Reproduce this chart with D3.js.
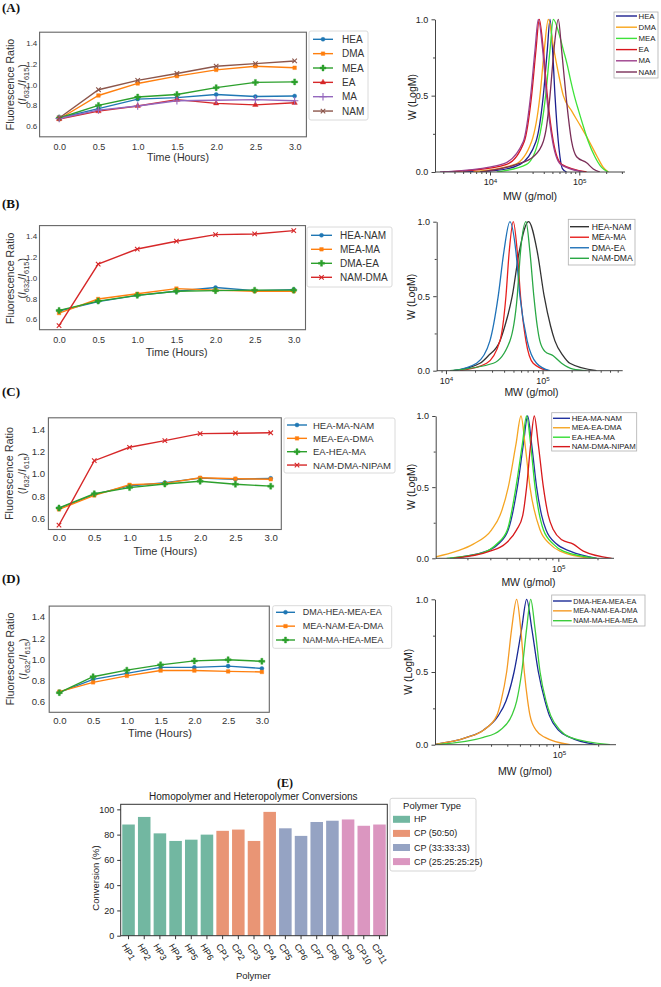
<!DOCTYPE html>
<html><head><meta charset="utf-8">
<script src="https://cdn.jsdelivr.net/npm/d3@7"></script>
<style>
body{margin:0;background:#fff;}
svg{display:block;font-family:"Liberation Sans",Arial,sans-serif;}
</style></head><body>
<svg id="c" width="661" height="987"></svg>
<script>
// ================= DATA =================
const timeHours = [0, 0.5, 1, 1.5, 2, 2.5, 3];
const timeTicks = [0, 0.5, 1, 1.5, 2, 2.5, 3];
const ratioTicks = [0.6, 0.8, 1.0, 1.2, 1.4];

const namesA = ["HEA", "DMA", "MEA", "EA", "MA", "NAM"];
const ratioA = [
  [0.68, 0.77, 0.86, 0.875, 0.905, 0.885, 0.89],
  [0.67, 0.895, 1.01, 1.08, 1.14, 1.175, 1.16],
  [0.68, 0.80, 0.88, 0.905, 0.97, 1.02, 1.025],
  [0.67, 0.745, 0.795, 0.855, 0.82, 0.805, 0.825],
  [0.675, 0.755, 0.795, 0.845, 0.85, 0.855, 0.845],
  [0.68, 0.95, 1.04, 1.105, 1.175, 1.20, 1.225]
];
const namesB = ["HEA-NAM", "MEA-MA", "DMA-EA", "NAM-DMA"];
const ratioB = [
  [0.68, 0.77, 0.83, 0.87, 0.905, 0.875, 0.885],
  [0.66, 0.795, 0.845, 0.895, 0.88, 0.87, 0.87],
  [0.685, 0.775, 0.83, 0.87, 0.875, 0.88, 0.88],
  [0.54, 1.13, 1.275, 1.35, 1.413, 1.42, 1.452]
];
const namesC = ["HEA-MA-NAM", "MEA-EA-DMA", "EA-HEA-MA", "NAM-DMA-NIPAM"];
const ratioC = [
  [0.69, 0.815, 0.89, 0.92, 0.96, 0.95, 0.958],
  [0.68, 0.805, 0.90, 0.913, 0.963, 0.955, 0.95],
  [0.693, 0.82, 0.875, 0.907, 0.932, 0.905, 0.888],
  [0.54, 1.116, 1.236, 1.296, 1.358, 1.362, 1.366]
];
const namesD = ["DMA-HEA-MEA-EA", "MEA-NAM-EA-DMA", "NAM-MA-HEA-MEA"];
const ratioD = [
  [0.688, 0.81, 0.866, 0.923, 0.923, 0.935, 0.913],
  [0.694, 0.782, 0.843, 0.893, 0.893, 0.885, 0.88],
  [0.685, 0.835, 0.897, 0.947, 0.984, 0.995, 0.98]
];

// GPC traces: [log10(MW), W(logM)]
const gpcNamesA = ["HEA", "DMA", "MEA", "EA", "MA", "NAM"];
const gpcA = [
  [[3.70,0],[4.075,0.01],[4.336,0.05],[4.515,0.2],[4.597,0.5],[4.642,0.8],[4.672,1.0],[4.701,0.8],[4.728,0.5],[4.765,0.2],[4.813,0.02],[4.858,0]],
  [[3.813,0],[4.28,0.05],[4.466,0.2],[4.56,0.5],[4.608,0.8],[4.653,1.0],[4.716,0.8],[4.765,0.65],[4.821,0.5],[4.914,0.4],[5.015,0.3],[5.112,0.2],[5.201,0.1],[5.269,0.03],[5.325,0]],
  [[4.075,0],[4.41,0.05],[4.541,0.2],[4.623,0.5],[4.672,0.8],[4.709,1.0],[4.776,0.9],[4.821,0.8],[4.866,0.7],[4.903,0.6],[4.944,0.5],[4.993,0.4],[5.045,0.3],[5.101,0.2],[5.175,0.1],[5.25,0.03],[5.325,0]],
  [[3.478,0],[3.776,0.01],[4.187,0.05],[4.384,0.2],[4.466,0.5],[4.515,0.8],[4.552,1.0],[4.597,0.8],[4.642,0.5],[4.709,0.2],[4.802,0.05],[5.082,0]],
  [[3.44,0],[3.739,0.012],[4.157,0.055],[4.373,0.2],[4.455,0.5],[4.504,0.8],[4.541,1.0],[4.59,0.8],[4.634,0.5],[4.701,0.2],[4.791,0.05],[5.045,0]],
  [[3.888,0],[4.299,0.05],[4.485,0.1],[4.597,0.2],[4.634,0.3],[4.672,0.5],[4.716,0.8],[4.765,1.0],[4.802,0.8],[4.851,0.5],[4.914,0.2],[4.97,0.1],[5.082,0.06],[5.157,0.02],[5.231,0]]
];
const gpcNamesB = ["HEA-NAM", "MEA-MA", "DMA-EA", "NAM-DMA"];
const gpcB = [
  [[4.076,0],[4.352,0.05],[4.438,0.1],[4.559,0.2],[4.61,0.3],[4.686,0.5],[4.759,0.8],[4.855,1.0],[4.945,0.8],[5.017,0.5],[5.083,0.3],[5.128,0.2],[5.214,0.1],[5.283,0.05],[5.559,0]],
  [[4.145,0],[4.421,0.05],[4.559,0.2],[4.621,0.5],[4.655,0.8],[4.697,1.0],[4.738,0.8],[4.772,0.5],[4.828,0.2],[4.903,0.05],[5.059,0]],
  [[4.076,0],[4.317,0.05],[4.455,0.2],[4.541,0.5],[4.60,0.8],[4.662,1.0],[4.724,0.8],[4.766,0.5],[4.841,0.2],[4.938,0.05],[5.076,0]],
  [[4.041,0],[4.49,0.05],[4.662,0.2],[4.738,0.5],[4.772,0.8],[4.828,1.0],[4.869,0.8],[4.91,0.5],[4.945,0.3],[4.972,0.2],[5.024,0.13],[5.11,0.1],[5.197,0.05],[5.317,0.01],[5.455,0]]
];
const gpcNamesC = ["HEA-MA-NAM", "MEA-EA-DMA", "EA-HEA-MA", "NAM-DMA-NIPAM"];
const gpcC = [
  [[4.167,0],[4.449,0.05],[4.538,0.1],[4.615,0.2],[4.685,0.5],[4.731,0.8],[4.764,1.0],[4.795,0.8],[4.833,0.5],[4.872,0.3],[4.905,0.2],[4.987,0.1],[5.09,0.05],[5.295,0]],
  [[4.057,0.01],[4.218,0.05],[4.346,0.1],[4.487,0.2],[4.551,0.3],[4.615,0.5],[4.674,0.8],[4.713,1.0],[4.744,0.8],[4.782,0.5],[4.859,0.2],[4.936,0.1],[5.013,0.05],[5.244,0]],
  [[4.141,0],[4.423,0.04],[4.526,0.1],[4.608,0.2],[4.674,0.5],[4.723,0.8],[4.756,1.0],[4.787,0.8],[4.821,0.5],[4.885,0.2],[4.962,0.1],[5.038,0.05],[5.295,0]],
  [[4.192,0],[4.474,0.05],[4.59,0.1],[4.679,0.2],[4.726,0.3],[4.756,0.5],[4.787,0.8],[4.815,1.0],[4.846,0.8],[4.885,0.5],[4.923,0.3],[4.962,0.2],[5.026,0.13],[5.115,0.1],[5.192,0.05],[5.41,0]]
];
const gpcNamesD = ["DMA-HEA-MEA-EA", "MEA-NAM-EA-DMA", "NAM-MA-HEA-MEA"];
const gpcD = [
  [[4.033,0],[4.29,0.05],[4.418,0.1],[4.533,0.2],[4.592,0.3],[4.654,0.5],[4.713,0.8],[4.751,1.0],[4.79,0.8],[4.841,0.5],[4.892,0.3],[4.926,0.2],[4.995,0.1],[5.085,0.05],[5.29,0]],
  [[4.033,0],[4.29,0.05],[4.418,0.1],[4.521,0.2],[4.554,0.3],[4.597,0.5],[4.636,0.8],[4.674,1.0],[4.705,0.8],[4.733,0.5],[4.759,0.3],[4.777,0.2],[4.823,0.1],[4.892,0.05],[5.085,0]],
  [[4.059,0],[4.418,0.05],[4.546,0.1],[4.636,0.2],[4.674,0.3],[4.713,0.5],[4.751,0.8],[4.782,1.0],[4.815,0.8],[4.854,0.5],[4.9,0.3],[4.936,0.2],[5.008,0.1],[5.085,0.05],[5.392,0]]
];
const gpcYTicks = [0, 0.5, 1.0];
const gpcYMinor = [0.25, 0.75];

// Panel E
const polymers = ["HP1","HP2","HP3","HP4","HP5","HP6","CP1","CP2","CP3","CP4","CP5","CP6","CP7","CP8","CP9","CP10","CP11"];
const conversion = [88, 94, 81, 75, 76, 80, 83, 84, 75, 98, 85, 79, 90, 91, 92, 87, 88];
const polymerType = ["HP","HP","HP","HP","HP","HP","CP (50:50)","CP (50:50)","CP (50:50)","CP (50:50)","CP (33:33:33)","CP (33:33:33)","CP (33:33:33)","CP (33:33:33)","CP (25:25:25:25)","CP (25:25:25:25)","CP (25:25:25:25)"];
const typeNames = ["HP", "CP (50:50)", "CP (33:33:33)", "CP (25:25:25:25)"];
const convTicks = [0, 20, 40, 60, 80, 100];

// ================= STYLES =================
const tab = {blue:"#1f77b4", orange:"#ff7f0e", green:"#2ca02c", red:"#d62728", purple:"#9467bd", brown:"#8c564b"};
const fluorColorsA = [tab.blue, tab.orange, tab.green, tab.red, tab.purple, tab.brown];
const fluorMarkersA = ["circle","square","cross","triangle","plus","times"];
const fluorColorsB = [tab.blue, tab.orange, tab.green, tab.red];
const fluorMarkersB = ["circle","square","cross","times"];
const fluorColorsD = [tab.blue, tab.orange, tab.green];
const fluorMarkersD = ["circle","square","cross"];
const gpcColorsA = ["#1c1f8f", "#f9a51a", "#3ee23a", "#d9161d", "#9c3f8c", "#7a2f58"];
const gpcColorsB = ["#333333", "#e8201e", "#1f72b8", "#2aa845"];
const gpcColorsC = ["#2233a0", "#f5a623", "#33dd33", "#d7191c"];
const gpcColorsD = ["#1a2a96", "#f59a23", "#3ccc3c"];
const typeColors = ["#72b7a1", "#e99575", "#95a3c3", "#db96c0"];

const fluorLayout = {
  A:{xr:[39.6,306.4], xDom:[-0.25,3.15], yr:[136.8,32.2], tickFs:9, yTickFs:8, xPad:6.6, yPad:2.3,
     l1:9.5, l2:21.5, lcy:84.5, lfs:10.6, tx:178, ty:161.3, tfs:10.7,
     leg:{x:309, y:31, w:59, h:89, e0:39.3, step:14.35, h0:313, h1:333, tx:342, fs:10}},
  B:{xr:[39.5,305.5], xDom:[-0.25,3.15], yr:[329.7,225.6], tickFs:9, yTickFs:8, xPad:7, yPad:2.3,
     l1:9.5, l2:21.5, lcy:278.3, lfs:10.6, tx:176.7, ty:356.3, tfs:10.7,
     leg:{x:307, y:227, w:85, h:60, e0:235.3, step:14, h0:311, h1:332, tx:340, fs:10}},
  C:{xr:[48.4,281.3], xDom:[-0.15,3.15], yr:[529.5,417.8], tickFs:9.6, yTickFs:9.6, xPad:5, yPad:3.3,
     l1:8.7, l2:22.2, lcy:473.5, lfs:10.8, tx:165.3, ty:555.2, tfs:11,
     leg:{x:284, y:418, w:111, h:55, e0:425, step:13.35, h0:287, h1:307, tx:313, fs:9.5}},
  D:{xr:[49.2,269.3], xDom:[-0.15,3.11], yr:[712.3,606.1], tickFs:9.6, yTickFs:9.6, xPad:5, yPad:4.2,
     l1:10, l2:22.8, lcy:659, lfs:10.8, tx:160, ty:737, tfs:11,
     leg:{x:272.7, y:605.7, w:119, h:42.6, e0:612.3, step:13.85, h0:276, h1:295, tx:302.7, fs:9}}
};
const gpcLayout = {
  A:{xr:[435,625], logDom:[3.384,5.512], yr:[172,19.3], ylx:411.7, ylcy:97, xlx:530, xly:200,
     leg:{x:614, y:12, w:44, h:66, e0:16, step:11.2, h0:616, h1:637, tx:638.5, fs:7.8}},
  B:{xr:[436.7,622.7], logDom:[3.904,5.83], yr:[370.7,221.7], ylx:411.2, ylcy:296.7, xlx:531.5, xly:396,
     leg:{x:568.3, y:219.3, w:66.7, h:45.7, e0:226.7, step:10.53, h0:570, h1:589, tx:591.7, fs:8.6}},
  C:{xr:[435.7,614], logDom:[4.057,5.428], yr:[558.3,416], ylx:410.6, ylcy:486.7, xlx:528.5, xly:586,
     leg:{x:551.7, y:412.7, w:85, h:38.3, e0:418.3, step:9.45, h0:553, h1:570, tx:571.7, fs:7.8}},
  D:{xr:[435,616], logDom:[4.046,5.438], yr:[744.7,599.3], ylx:408.3, ylcy:671.7, xlx:525, xly:774.5,
     leg:{x:551.7, y:595, w:93.3, h:31, e0:601, step:9.85, h0:553, h1:571.7, tx:573.3, fs:7.2}}
};

const svg = d3.select("#c");
const defs = svg.append("defs");
svg.append("rect").attr("width",661).attr("height",987).attr("fill","#fff");
const layerMarks = svg.append("g");
const layerText = svg.append("g");

function panelLabel(txt, x, y, fs){
  layerText.append("text").attr("x",x).attr("y",y)
    .attr("font-family",'"Liberation Serif","Times New Roman",serif')
    .attr("font-weight","bold").attr("font-size",fs || 13).attr("fill","#111").text(txt);
}

const symMap = {circle:d3.symbolCircle, square:d3.symbolSquare, cross:d3.symbolCross,
  triangle:d3.symbolTriangle, plus:d3.symbolPlus, times:d3.symbolTimes};
const symSize = {circle:13, square:13, cross:20, triangle:13, plus:20, times:15};
const strokeSyms = new Set(["plus","times"]);
function marker(g, x, y, type, color){
  g.append("path").attr("d", d3.symbol().type(symMap[type]).size(symSize[type])())
    .attr("transform",`translate(${x},${y})`)
    .attr("fill", strokeSyms.has(type) ? "none" : color)
    .attr("stroke", color).attr("stroke-width", strokeSyms.has(type) ? 1.1 : 0.4);
}

function fluorPanel(L, names, series, colors, markers){
  const g = layerMarks.append("g");
  const x = d3.scaleLinear().domain(L.xDom).range(L.xr);
  const y = d3.scaleLinear().domain([0.5, 1.5]).range(L.yr);
  const ax = g.append("g").attr("transform",`translate(0,${L.yr[0]})`)
    .call(d3.axisBottom(x).tickValues(timeTicks).tickFormat(d3.format(".1f")).tickSize(0).tickPadding(L.xPad));
  const ay = g.append("g").attr("transform",`translate(${L.xr[0]},0)`)
    .call(d3.axisLeft(y).tickValues(ratioTicks).tickFormat(d3.format(".1f")).tickSize(0).tickPadding(L.yPad));
  ax.select(".domain").remove();
  ay.select(".domain").remove();
  ax.selectAll("text").attr("font-size", L.tickFs).attr("fill","#333").attr("font-family",'"Liberation Sans",Arial,sans-serif');
  ay.selectAll("text").attr("font-size", L.yTickFs).attr("fill","#333").attr("font-family",'"Liberation Sans",Arial,sans-serif');
  g.append("rect").attr("x",L.xr[0]).attr("y",L.yr[1]).attr("width",L.xr[1]-L.xr[0]).attr("height",L.yr[0]-L.yr[1])
    .attr("fill","none").attr("stroke","#666").attr("stroke-width",1.1);
  const line = d3.line().x((d,i)=>x(timeHours[i])).y(d=>y(d));
  series.forEach((s,k)=>{
    g.append("path").datum(s).attr("d",line).attr("fill","none").attr("stroke",colors[k]).attr("stroke-width",1.4);
  });
  series.forEach((s,k)=>{
    s.forEach((v,i)=>marker(g, x(timeHours[i]), y(v), markers[k], colors[k]));
  });
  const tg = layerText.append("g");
  tg.append("text").attr("transform",`translate(${L.l1},${L.lcy}) rotate(-90)`).attr("text-anchor","middle")
    .attr("dominant-baseline","central").attr("font-size",L.lfs).attr("fill","#333").text("Fluorescence Ratio");
  const t2 = tg.append("text").attr("transform",`translate(${L.l2},${L.lcy}) rotate(-90)`).attr("text-anchor","middle")
    .attr("dominant-baseline","central").attr("font-size",L.lfs).attr("fill","#333");
  t2.append("tspan").text("(");
  t2.append("tspan").attr("font-style","italic").text("I");
  t2.append("tspan").attr("baseline-shift","sub").attr("font-size",L.lfs*0.7).text("632");
  t2.append("tspan").text("/");
  t2.append("tspan").attr("font-style","italic").text("I");
  t2.append("tspan").attr("baseline-shift","sub").attr("font-size",L.lfs*0.7).text("615");
  t2.append("tspan").text(")");
  tg.append("text").attr("x",L.tx).attr("y",L.ty).attr("text-anchor","middle").attr("font-size",L.tfs).attr("fill","#333").text("Time (Hours)");
  const lg = L.leg;
  g.append("rect").attr("x",lg.x).attr("y",lg.y).attr("width",lg.w).attr("height",lg.h).attr("rx",2)
    .attr("fill","#fff").attr("stroke","#d6d6d6").attr("stroke-width",0.9);
  names.forEach((n,k)=>{
    const yy = lg.e0 + k*lg.step;
    g.append("line").attr("x1",lg.h0).attr("x2",lg.h1).attr("y1",yy).attr("y2",yy).attr("stroke",colors[k]).attr("stroke-width",1.4);
    marker(g, (lg.h0+lg.h1)/2, yy, markers[k], colors[k]);
    g.append("text").attr("x",lg.tx).attr("y",yy).attr("dominant-baseline","central").attr("font-size",lg.fs).attr("fill","#333").text(n);
  });
}

let clipId = 0;
function gpcPanel(L, names, curves, colors){
  const g = layerMarks.append("g");
  const x = d3.scaleLog().domain(L.logDom.map(v=>Math.pow(10,v))).range(L.xr);
  const y = d3.scaleLinear().domain([0,1]).range(L.yr);
  const id = "gclip" + (clipId++);
  defs.append("clipPath").attr("id",id).append("rect").attr("x",L.xr[0]).attr("y",L.yr[1]-5)
    .attr("width",L.xr[1]-L.xr[0]).attr("height",L.yr[0]-L.yr[1]+5);
  const line = d3.line().x(d=>x(Math.pow(10,d[0]))).y(d=>y(d[1])).curve(d3.curveMonotoneX);
  const cg = g.append("g").attr("clip-path",`url(#${id})`);
  curves.forEach((c,k)=>{
    cg.append("path").datum(c).attr("d",line).attr("fill","none").attr("stroke",colors[k]).attr("stroke-width",1.3);
  });
  const [lo, hi] = x.domain();
  const minors = [], majors = [];
  for (let e = 3; e <= 6; e++) for (let m = 1; m <= 9; m++) {
    const v = m * Math.pow(10, e);
    if (v >= lo && v <= hi) (m === 1 ? majors : minors).push(v);
  }
  g.append("g").attr("transform",`translate(0,${L.yr[0]})`)
    .call(d3.axisBottom(x).tickValues(minors).tickFormat("").tickSize(2).tickSizeOuter(0))
    .call(a=>a.select(".domain").remove()).selectAll("line").attr("stroke","#444");
  const axb = g.append("g").attr("transform",`translate(0,${L.yr[0]})`)
    .call(d3.axisBottom(x).tickValues(majors).tickSize(3.5).tickSizeOuter(0).tickPadding(3.5).tickFormat(()=>""));
  axb.select(".domain").attr("d",`M${L.xr[0]},0H${L.xr[1]}`).attr("stroke","#444");
  axb.selectAll("line").attr("stroke","#444");
  axb.selectAll(".tick text").each(function(d){
    const t = d3.select(this).attr("font-size",9).attr("fill","#222").attr("font-family",'"Liberation Sans",Arial,sans-serif');
    t.append("tspan").text("10");
    t.append("tspan").attr("dy","-0.45em").attr("font-size",6.2).text(Math.round(Math.log10(d)));
  });
  g.append("g").attr("transform",`translate(${L.xr[0]},0)`)
    .call(d3.axisLeft(y).tickValues(gpcYMinor).tickFormat("").tickSize(2).tickSizeOuter(0))
    .call(a=>a.select(".domain").remove()).selectAll("line").attr("stroke","#444");
  const axl = g.append("g").attr("transform",`translate(${L.xr[0]},0)`)
    .call(d3.axisLeft(y).tickValues(gpcYTicks).tickFormat(d3.format(".1f")).tickSize(3.5).tickSizeOuter(0).tickPadding(3.2));
  axl.select(".domain").attr("stroke","#444");
  axl.selectAll("line").attr("stroke","#444");
  axl.selectAll("text").attr("font-size",9).attr("fill","#222").attr("font-family",'"Liberation Sans",Arial,sans-serif');
  const lg = L.leg;
  g.append("rect").attr("x",lg.x).attr("y",lg.y).attr("width",lg.w).attr("height",lg.h)
    .attr("fill","#fff").attr("stroke","#b0b0b0").attr("stroke-width",0.8);
  names.forEach((n,k)=>{
    const yy = lg.e0 + k*lg.step;
    g.append("line").attr("x1",lg.h0).attr("x2",lg.h1).attr("y1",yy).attr("y2",yy).attr("stroke",colors[k]).attr("stroke-width",1.4);
    g.append("text").attr("x",lg.tx).attr("y",yy).attr("dominant-baseline","central").attr("font-size",lg.fs).attr("fill","#222").text(n);
  });
  layerText.append("text").attr("transform",`translate(${L.ylx},${L.ylcy}) rotate(-90)`).attr("text-anchor","middle")
    .attr("dominant-baseline","central").attr("font-size",10.5).attr("fill","#222").text("W (LogM)");
  layerText.append("text").attr("x",L.xlx).attr("y",L.xly).attr("text-anchor","middle")
    .attr("font-size",10.5).attr("fill","#222").text("MW (g/mol)");
}

function barPanel(){
  const g = layerMarks.append("g");
  const EF = '"Liberation Sans Narrow","Liberation Sans",Arial,sans-serif';
  g.attr("font-family", EF);
  const x = d3.scaleBand().domain(polymers).range([120.7, 387.3]).paddingInner(0.2).paddingOuter(0.1);
  const y = d3.scaleLinear().domain([0, 104]).range([935.7, 804.3]);
  const col = d3.scaleOrdinal().domain(typeNames).range(typeColors);
  g.selectAll("rect.bar").data(polymers).join("rect").attr("class","bar")
    .attr("x", d=>x(d)).attr("width", x.bandwidth())
    .attr("y", (d,i)=>y(conversion[i])).attr("height", (d,i)=>y(0)-y(conversion[i]))
    .attr("fill", (d,i)=>col(polymerType[i]));
  g.append("rect").attr("x",120.7).attr("y",804.3).attr("width",266.6).attr("height",131.4)
    .attr("fill","none").attr("stroke","#333").attr("stroke-width",1);
  const ay = g.append("g").attr("transform","translate(120.7,0)")
    .call(d3.axisLeft(y).tickValues(convTicks).tickSize(3.5).tickPadding(3));
  ay.select(".domain").remove();
  ay.selectAll("line").attr("stroke","#333");
  ay.selectAll("text").attr("font-size",9).attr("fill","#222").attr("font-family",EF);
  const ax = g.append("g").attr("transform","translate(0,935.7)")
    .call(d3.axisBottom(x).tickSize(3.5).tickPadding(3));
  ax.select(".domain").remove();
  ax.selectAll("line").attr("stroke","#333");
  ax.selectAll("text").attr("font-size",9).attr("fill","#222").attr("font-family",EF)
    .each(function(){
      const t = d3.select(this);
      const Ltxt = this.getComputedTextLength();
      const h = 9;
      const cy = 6.5 + (Ltxt*0.866 + h*0.5)/2;
      t.attr("y",0).attr("dy",null).attr("text-anchor","middle").attr("dominant-baseline","central")
       .attr("transform",`translate(0,${cy}) rotate(60)`);
    });
  g.append("text").attr("x",253.3).attr("y",800).attr("text-anchor","middle").attr("font-size",10).attr("fill","#222").text("Homopolymer and Heteropolymer Conversions");
  g.append("text").attr("transform","translate(95,878) rotate(-90)").attr("text-anchor","middle").attr("dominant-baseline","central")
    .attr("font-size",9.5).attr("fill","#222").text("Conversion (%)");
  g.append("text").attr("x",253.3).attr("y",979).attr("text-anchor","middle").attr("font-size",9.5).attr("fill","#222").text("Polymer");
  g.append("rect").attr("x",390).attr("y",798.3).attr("width",86).attr("height",72.7).attr("rx",2)
    .attr("fill","#fff").attr("stroke","#d0d0d0").attr("stroke-width",0.9);
  g.append("text").attr("x",432).attr("y",809.2).attr("text-anchor","middle").attr("font-size",9.5).attr("fill","#222").text("Polymer Type");
  typeNames.forEach((n,k)=>{
    const yy = 819.3 + k*14.1;
    g.append("rect").attr("x",393).attr("y",yy-3.5).attr("width",17).attr("height",7).attr("fill",col(n));
    g.append("text").attr("x",414).attr("y",yy).attr("dominant-baseline","central").attr("font-size",9).attr("fill","#222").text(n);
  });
}

fluorPanel(fluorLayout.A, namesA, ratioA, fluorColorsA, fluorMarkersA);
fluorPanel(fluorLayout.B, namesB, ratioB, fluorColorsB, fluorMarkersB);
fluorPanel(fluorLayout.C, namesC, ratioC, fluorColorsB, fluorMarkersB);
fluorPanel(fluorLayout.D, namesD, ratioD, fluorColorsD, fluorMarkersD);
gpcPanel(gpcLayout.A, gpcNamesA, gpcA, gpcColorsA);
gpcPanel(gpcLayout.B, gpcNamesB, gpcB, gpcColorsB);
gpcPanel(gpcLayout.C, gpcNamesC, gpcC, gpcColorsC);
gpcPanel(gpcLayout.D, gpcNamesD, gpcD, gpcColorsD);
barPanel();
panelLabel("(A)", 2, 11.5);
panelLabel("(B)", 2, 208);
panelLabel("(C)", 2, 395.5);
panelLabel("(D)", 2, 582.5);
panelLabel("(E)", 277, 786.5, 12);
</script>
</body></html>
